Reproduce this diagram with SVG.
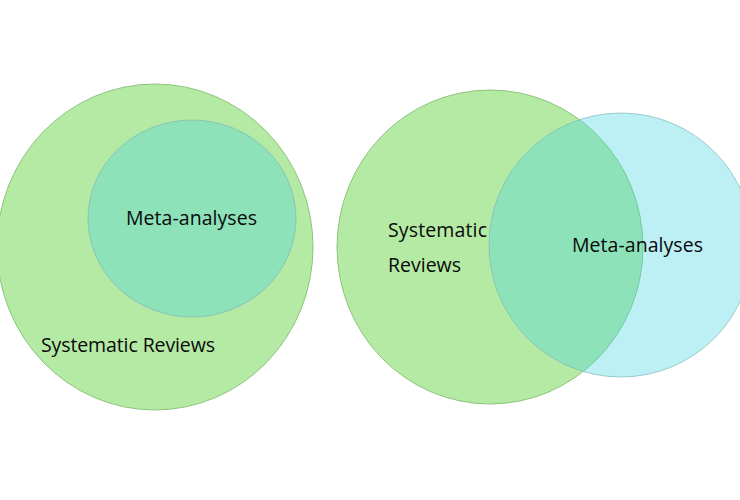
<svg xmlns="http://www.w3.org/2000/svg" width="740" height="500" viewBox="0 0 740 500">
<style>
.sr{fill:#b5eaa5;stroke:#8cc47c;stroke-width:1}
.ma{fill:#42d3e2;fill-opacity:0.35;stroke:#7fb8b8;stroke-opacity:0.7;stroke-width:1}
.lbl{font-family:"Open Sans","Liberation Sans",sans-serif;font-size:19.5px;fill:#0a0a0a}
</style>
<rect width="740" height="500" fill="#ffffff"/>
<g id="left-systematic-reviews">
<ellipse class="sr" cx="155" cy="247" rx="158" ry="163"/>
<text class="lbl" x="41" y="352" textLength="174">Systematic Reviews</text>
</g>
<g id="left-meta-analyses">
<ellipse class="ma" cx="192" cy="218.5" rx="104" ry="98.5"/>
<text class="lbl" x="126" y="225" textLength="131">Meta-analyses</text>
</g>
<g id="right-systematic-reviews">
<ellipse class="sr" cx="490" cy="247" rx="153" ry="157"/>
<text class="lbl" x="388" y="237" textLength="99">Systematic</text>
<text class="lbl" x="388" y="272" textLength="73">Reviews</text>
</g>
<g id="right-meta-analyses">
<ellipse class="ma" cx="621" cy="245" rx="132" ry="132"/>
<text class="lbl" x="572" y="252" textLength="131">Meta-analyses</text>
</g>
<g id="connectors"/>
</svg>
